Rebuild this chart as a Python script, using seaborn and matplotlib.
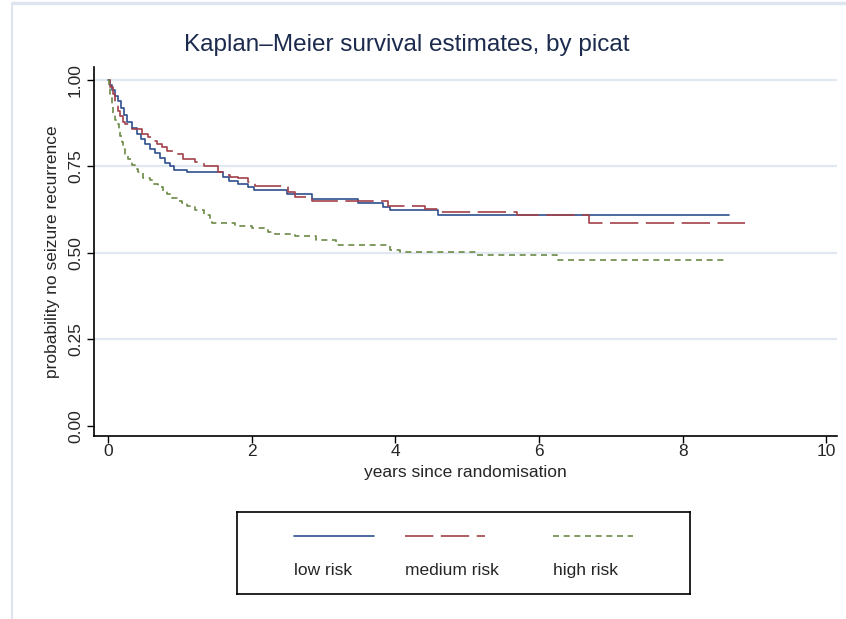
import matplotlib
matplotlib.use("Agg")
import matplotlib.pyplot as plt
import seaborn as sns
from matplotlib.lines import Line2D

# Kaplan-Meier step data (time in years, survival after the step)
low_t = [0, 0.03, 0.06, 0.10, 0.14, 0.18, 0.22, 0.27, 0.33, 0.40, 0.46, 0.52, 0.58, 0.65, 0.72,
         0.79, 0.86, 0.92, 1.10, 1.60, 1.68, 1.81, 1.95, 2.03, 2.49, 2.84, 3.48, 3.83, 3.92, 4.60, 8.64]
low_s = [1.0, 0.985, 0.97, 0.955, 0.94, 0.92, 0.90, 0.88, 0.862, 0.845, 0.83, 0.815, 0.80, 0.79, 0.775,
         0.76, 0.75, 0.741, 0.733, 0.72, 0.709, 0.70, 0.69, 0.682, 0.671, 0.655, 0.644, 0.633, 0.625, 0.61, 0.61]

med_t = [0, 0.03, 0.07, 0.10, 0.14, 0.17, 0.21, 0.24, 0.33, 0.47, 0.56, 0.62, 0.68, 0.75, 0.82, 0.93,
         1.05, 1.21, 1.33, 1.53, 1.60, 1.70, 1.81, 1.95, 2.05, 2.50, 2.60, 2.84, 3.45, 3.90, 4.42, 4.62,
         5.69, 6.70, 8.87]
med_s = [1.0, 0.98, 0.96, 0.935, 0.91, 0.896, 0.88, 0.872, 0.858, 0.845, 0.835, 0.824, 0.815, 0.805,
         0.795, 0.786, 0.771, 0.762, 0.75, 0.735, 0.724, 0.72, 0.716, 0.704, 0.695, 0.677, 0.663, 0.651,
         0.649, 0.637, 0.627, 0.618, 0.61, 0.587, 0.587]

high_t = [0, 0.01, 0.03, 0.05, 0.07, 0.10, 0.12, 0.15, 0.17, 0.19, 0.21, 0.24, 0.28, 0.33, 0.38, 0.42,
          0.49, 0.58, 0.63, 0.70, 0.76, 0.82, 0.89, 0.96, 1.03, 1.10, 1.21, 1.33, 1.42, 1.45, 1.77, 2.00,
          2.23, 2.33, 2.60, 2.90, 3.18, 3.93, 4.07, 5.13, 6.25, 8.62]
high_s = [1.0, 0.975, 0.95, 0.925, 0.905, 0.885, 0.872, 0.855, 0.839, 0.82, 0.80, 0.785, 0.771, 0.755,
          0.742, 0.735, 0.718, 0.712, 0.699, 0.69, 0.68, 0.671, 0.66, 0.651, 0.645, 0.637, 0.623, 0.609,
          0.594, 0.587, 0.578, 0.572, 0.562, 0.555, 0.549, 0.538, 0.524, 0.51, 0.503, 0.495, 0.48, 0.48]

labels = ["low risk", "medium risk", "high risk"]
colors = ["#2f4f8f", "#a3414a", "#6b8a45"]
dash_styles = [None, (17, 4.5), (3.6, 2.8)]
xticks = [0, 2, 4, 6, 8, 10]
yticks = [0, 0.25, 0.5, 0.75, 1.0]

sns.set_style("white")
plt.rcParams["font.family"] = ["Liberation Sans", "DejaVu Sans"]

fig = plt.figure(figsize=(8.46, 6.19), dpi=100)
ax = fig.add_axes([94 / 846, 1 - 436 / 619, 743 / 846, 369 / 619])

for y in yticks[1:]:
    ax.axhline(y, color="#e2e8f1", lw=1.6, zorder=0)

series = [(low_t, low_s), (med_t, med_s), (high_t, high_s)]
for (t, s), c, d in zip(series, colors, dash_styles):
    n = len(ax.lines)
    sns.lineplot(x=t, y=s, ax=ax, color=c, drawstyle="steps-post", estimator=None,
                 sort=False, linewidth=1.2)
    line = ax.lines[n]
    if d is not None:
        line.set_dashes(d)

ax.set_xlim(-0.195, 10.15)
ax.set_ylim(-0.029, 1.0376)
ax.set_xticks(xticks)
ax.set_xticklabels([str(v) for v in xticks])
ax.set_yticks(yticks)
ax.set_yticklabels(["%.2f" % v for v in yticks], rotation=90, va="center")
ax.tick_params(direction="out", length=5, width=1, color="black", labelsize=12.5,
               left=True, bottom=True)
ax.tick_params(axis="x", pad=1)
ax.tick_params(axis="y", pad=3)
for side in ["top", "right"]:
    ax.spines[side].set_visible(False)
for side in ["left", "bottom"]:
    ax.spines[side].set_color("black")
    ax.spines[side].set_linewidth(1.2)
ax.set_xlabel("years since randomisation", fontsize=12.5, va="center")
ax.xaxis.set_label_coords(0.5, -(472 - 436) / 369)
ax.set_ylabel("probability no seizure recurrence", fontsize=12.5, labelpad=6)
ax.set_facecolor("white")

fig.text(407 / 846, 1 - 45 / 619, "Kaplan\u2013Meier survival estimates, by picat",
         ha="center", va="center", fontsize=17.5, color="#1c2b4d")

# legend box, keys above labels
lax = fig.add_axes([237 / 846, 1 - 594 / 619, 453 / 846, 82 / 619])
lax.set_xticks([])
lax.set_yticks([])
for sp in lax.spines.values():
    sp.set_color("black")
    sp.set_linewidth(1.2)
key_x = [0.126, 0.371, 0.698]
for kx, lab, c, d in zip(key_x, labels, colors, dash_styles):
    ln = Line2D([kx, kx + 0.176], [0.707, 0.707], color=c, lw=1.2, transform=lax.transAxes)
    if d is not None:
        ln.set_dashes(d)
    lax.add_line(ln)
    lax.text(kx, 0.29, lab, transform=lax.transAxes, ha="left", va="center", fontsize=12.5)

# faint outer frame of the screenshot
fig.add_artist(Line2D([12 / 846, 12 / 846], [0, 1 - 3 / 619], color="#dfe5ef", lw=1.5,
                      transform=fig.transFigure))
fig.add_artist(Line2D([12 / 846, 1], [1 - 3 / 619, 1 - 3 / 619], color="#dfe5ef", lw=2.5,
                      transform=fig.transFigure))

fig.savefig("out.png", dpi=100)
